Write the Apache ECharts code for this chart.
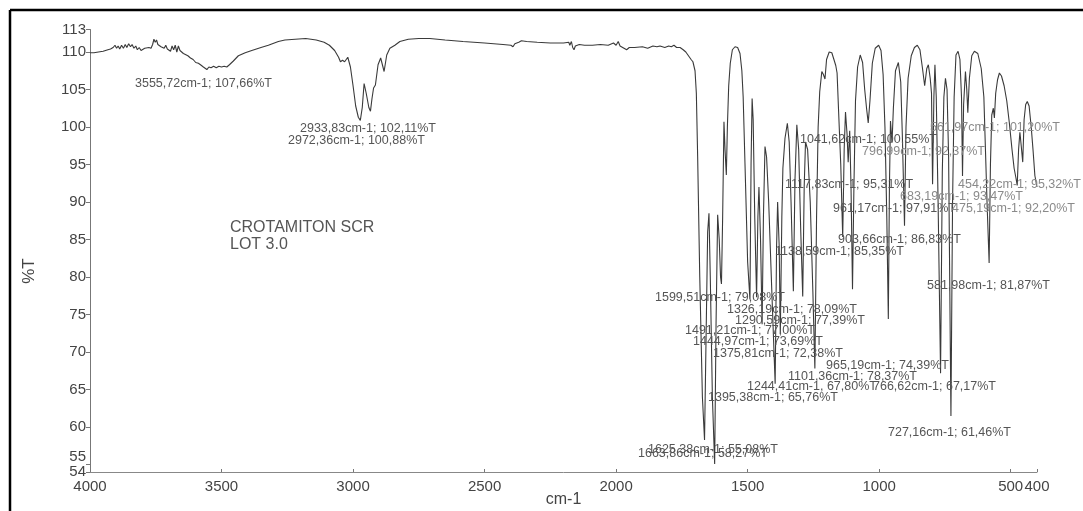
<!DOCTYPE html>
<html><head><meta charset="utf-8">
<script src="https://cdn.jsdelivr.net/npm/echarts@6/dist/echarts.min.js"></script>
<style>html,body{margin:0;padding:0;background:#fff;}#c{width:1083px;height:511px;}</style>
</head><body><div id="c"></div>
<script>
// ---- data (wavenumber cm-1, %T) ----
const wavenumbers = [
4000,3985,3968,3950,3932,3922,3912,3905,3899,3893,3887,3880,3873,3866,3860,3853,3846,3840,3833,3826,3820,3813,3806,3800,3792,3785,3776,3768,3762,3757,3752,3747,3742,3736,3730,3724,3718,3712,3706,3700,3694,3688,3682,3676,3670,3664,3658,3652,3645,3638,3628,3618,3608,3598,3588,3580,3575,3569,3562,3555.72,3548,3540,3530,3520,3510,3500,3490,3480,3470,3455,3436,3410,3385,3350,3322,3284,3259,3220,3180,3140,3110,
3090,3070,3055,3048,3040,3032,3020,3010,3000,2990,2980,2972.36,2965,2958,2950,2940,2933.83,2928,2922,2915,2905,2895,2882,2872,2860,
2841,2822,2790,2750,2708,2650,2582,2500,2430,2400,2392,2385,2378,2370,2360,2340,2300,2250,2200,2180,2176,2170,2165,2160,2155,2148,2140,2120,2090,2060,2030,2010,2000,1992,1985,1978,1970,1960,1950,1930,1900,1880,1860,1845,1833,1815,1800,1790,1780,1770,1757,1745,1735,1727,1715,1708,1700,1695,
1690,1682,1672,1663.86,1658,1652,1647,1642,1634,1625.38,1620,1614,1608,1603,1599.51,1595,1590,1586,1581,1577,1572,1566,1558,1548,1538,1529,1522,1517,1510,1500,1491.21,1487,1483,1479,1473,1466,1461,1457,1451,1444.97,1440,1434,1428,1420,1408,1395.38,1390,1386,1380,1375.81,1370,1366,1358,1349,1342,1335,1326.19,1320,1313,1306,1298,1290.59,1285,1280,1272,1262,1252,1244.41,
1238,1232,1226,1218,1212,1206,1200,1190,1180,1172,1165,1160,1154,1146,1138.59,1133,1128,1122,1117.83,1112,1107,1101.36,1096,1090,1082,1072,1063,1055,1048,1041.62,1035,1026,1015,1002,993,985,978,971,965.19,961,957,951.17,946,938,927,918,912,903.66,898,890,878,866,855,845,836,827,819,813,806,801,796.99,792,788,783,776,766.62,760,754,748,742,736,727.16,721,715,708,700,693,687,683.19,679,672,667,663,657,648,638,625,612,602,596,590,581.98,577,572,566,561.97,557,550,543,535,525,515,505,495,487,480,475.19,470,465,460,454.22,449,443,437,430,422,415,408,400];
const transmittance = [
109.9,109.9,110.0,110.1,110.3,110.4,110.6,110.9,110.5,110.8,110.4,110.9,110.5,111.0,110.6,111.1,110.7,111.0,110.5,110.8,110.3,110.6,110.2,110.0,110.5,110.4,110.6,110.5,111.0,111.7,111.3,111.6,111.0,111.1,110.7,110.8,110.5,110.9,110.4,110.6,110.1,110.8,110.3,110.9,110.0,110.8,110.2,110.4,109.8,109.9,109.5,109.2,109.0,108.6,108.5,108.3,108.4,108.0,108.2,107.66,108.0,107.9,108.1,107.9,108.1,108.0,108.1,108.0,108.3,108.8,109.5,109.9,110.2,110.6,110.9,111.4,111.6,111.7,111.8,111.6,111.3,
110.9,110.2,109.3,108.7,108.9,108.7,109.3,108.0,105.5,102.8,101.3,100.88,102.6,105.8,104.5,102.6,102.11,103.8,105.2,105.6,108.3,109.2,107.4,109.6,110.5,
110.9,111.4,111.7,111.8,111.8,111.6,111.4,111.2,111.0,110.9,110.7,111.1,110.9,111.3,111.5,111.4,111.3,111.2,111.2,111.3,110.9,111.4,110.6,110.3,110.8,110.6,111.0,110.9,110.9,111.0,110.9,111.2,110.9,111.4,110.8,111.0,110.5,110.3,110.6,110.6,110.7,110.5,110.8,110.7,110.8,110.6,110.8,110.7,110.9,110.6,110.6,110.3,110.0,109.6,109.0,108.7,107.5,104.5,
96,80,64,58.27,72,86,88.5,80,64,55.08,74,88.3,85,80,79.08,88,100.7,97,93.6,100,105.5,108.5,110.3,110.7,110.6,109.8,107.5,104,95,82,77.0,95,103.8,101,88,77.3,88,92,85,73.69,88,97.4,96,90,78,65.76,84,90,84,72.38,88,94.5,98.5,100.5,98,90,78.09,93,100.3,97,86,77.39,92,98.0,97,90,78,67.8,
88,100,104.7,107.4,107.0,106.4,109.0,110.0,109.9,109.0,108.2,107.2,101.9,95,85.35,97,102.0,99,95.31,99.5,92,78.37,92,103.5,108.0,109.6,108.6,105,102.5,100.55,103.5,108.5,110.5,110.9,110.2,107,100,88,74.39,92,100.8,97.91,102.5,107.5,108.6,106,99,86.83,100,106.5,109.5,110.6,110.9,110.3,108,105.5,107.8,108.3,106.5,104.5,92.37,104,108.3,104,90,67.17,94,104,106.5,105,96,61.46,90,104,109.6,110.1,109,104,93.47,103,107.4,105,101.9,106.5,109.5,110.1,109.8,107.8,104,97,90,81.87,95,101.6,102.5,101.2,104.5,106.3,107.2,106.8,105.5,103.5,100.5,97,94.5,93.2,92.2,97,99.3,97.5,95.32,101,103.0,103.4,102.8,100,96.9,93.5,92.0];
const xTicks = [4000,3500,3000,2500,2000,1500,1000,500,400];
const yTicks = [54,55,60,65,70,75,80,85,90,95,100,105,110,113];
const axisTitles = {x:'cm-1', y:'%T'};
const noteLines = ['CROTAMITON SCR','LOT 3.0'];
const peakLabelTexts = [
'3555,72cm-1; 107,66%T','2933,83cm-1; 102,11%T','2972,36cm-1; 100,88%T','1041,62cm-1; 100,55%T',
'561,97cm-1; 101,20%T','796,99cm-1; 92,37%T','1117,83cm-1; 95,31%T','454,22cm-1; 95,32%T',
'683,19cm-1; 93,47%T','961,17cm-1; 97,91%T','475,19cm-1; 92,20%T','903,66cm-1; 86,83%T',
'1138,59cm-1; 85,35%T','581,98cm-1; 81,87%T','1599,51cm-1; 79,08%T','1326,19cm-1; 78,09%T',
'1290,59cm-1; 77,39%T','1491,21cm-1; 77,00%T','1444,97cm-1; 73,69%T','1375,81cm-1; 72,38%T',
'965,19cm-1; 74,39%T','1101,36cm-1; 78,37%T','1244,41cm-1, 67,80%T','766,62cm-1; 67,17%T',
'1395,38cm-1; 65,76%T','727,16cm-1; 61,46%T','1625,38cm-1; 55,08%T','1663,86cm-1; 58,27%T'];

// ---- layout (pixel spots of the annotation texts: left x, middle y, shade) ----
const peakLabelSpots = [
[135,84,0],[300,129,0],[288,141,0],[800,140,0],
[930,128,1],[862,152,1],[785,185,0],[958,185,1],
[900,197,1],[833,209,0],[952,209,1],[838,240,0],
[775,252,0],[927,286,0],[655,298,0],[727,310,0],
[735,321,0],[685,331,0],[693,342,0],[713,354,0],
[826,366,0],[788,377,0],[747,387,0],[873,387,0],
[708,398,0],[888,433,0],[648,450,0],[638,454,0]];

const FONT = '"Liberation Sans", Arial, sans-serif';
const chart = echarts.init(document.getElementById('c'), null, {renderer:'canvas'});
const graphics = [
  {type:'line', shape:{x1:10,y1:10,x2:1083,y2:10}, style:{stroke:'#000', lineWidth:2.5}},
  {type:'line', shape:{x1:10,y1:10,x2:10,y2:511}, style:{stroke:'#000', lineWidth:2.5}},
  {type:'text', x:230, y:228, style:{text:noteLines[0], font:'16px '+FONT, fill:'#555', verticalAlign:'middle'}},
  {type:'text', x:230, y:245, style:{text:noteLines[1], font:'16px '+FONT, fill:'#555', verticalAlign:'middle'}},
  {type:'text', x:29, y:271, rotation:Math.PI/2, style:{text:axisTitles.y, font:'17px '+FONT, fill:'#444', align:'center', verticalAlign:'middle'}},
  {type:'text', x:563.5, y:500, style:{text:axisTitles.x, font:'16px '+FONT, fill:'#444', align:'center', verticalAlign:'middle'}}
];
peakLabelTexts.forEach((t,i)=>{
  const s = peakLabelSpots[i];
  graphics.push({type:'text', x:s[0], y:s[1], z:5, style:{text:t, font:'12.5px '+FONT, fill: s[2]?'#8a8a8a':'#555', verticalAlign:'middle'}});
});
const plain = v => String(v);
const yLabelMain = yTicks.filter(v => v !== 55);
const yLabelRaised = yTicks.filter(v => v === 55);
const yLabelStyle = {formatter:plain, showMinLabel:true, showMaxLabel:true, hideOverlap:false,
  fontFamily:FONT, fontSize:15, color:'#444', margin:4};

chart.setOption({
  animation:false,
  backgroundColor:'#ffffff',
  grid:{left:90, right:46, top:29.5, bottom:39, containLabel:false, outerBoundsMode:'none'},
  xAxis:{type:'value', min:400, max:4000, inverse:true,
    axisLine:{show:true, lineStyle:{color:'#888', width:1}},
    axisTick:{show:true, inside:true, length:3, customValues:xTicks, lineStyle:{color:'#777'}},
    axisLabel:{customValues:xTicks, formatter:plain, showMinLabel:true, showMaxLabel:true, hideOverlap:false,
      fontFamily:FONT, fontSize:15, color:'#444', margin:7},
    splitLine:{show:false}},
  yAxis:[
    {type:'value', min:54, max:113,
      axisLine:{show:true, lineStyle:{color:'#777', width:1}},
      axisTick:{show:true, length:4, customValues:yTicks, lineStyle:{color:'#777'}},
      axisLabel:Object.assign({customValues:yLabelMain}, yLabelStyle),
      splitLine:{show:false}},
    {type:'value', min:54, max:113, position:'left',
      axisLine:{show:false}, axisTick:{show:false},
      axisLabel:Object.assign({customValues:yLabelRaised, verticalAlign:'bottom', lineHeight:15}, yLabelStyle),
      splitLine:{show:false}}
  ],
  series:[{type:'line', data:wavenumbers.map((w,i)=>[w, transmittance[i]]),
    showSymbol:false, smooth:false, lineStyle:{color:'#3a3a3a', width:1.1}, z:3}],
  graphic:graphics
});
</script></body></html>
